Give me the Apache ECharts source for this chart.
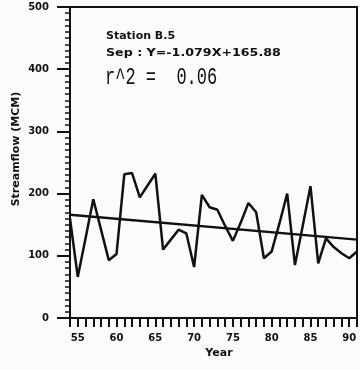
<!DOCTYPE html>
<html>
<head>
<meta charset="utf-8">
<script src="https://cdn.jsdelivr.net/npm/echarts@6/dist/echarts.min.js"></script>
<style>
html,body{margin:0;padding:0;background:#fcfcfa;}
#chart{width:360px;height:370px;}
</style>
</head>
<body>
<div id="chart"></div>
<script>
var years = [54,55,56,57,58,59,60,61,62,63,64,65,66,67,68,69,70,71,72,73,74,75,76,77,78,79,80,81,82,83,84,85,86,87,88,89,90,91];
var streamflow = [160,66,128,191,142,93,103,231,233,194,213,232,110,126,142,136,82,198,178,174,148,124,153,185,170,96,107,152,200,85,148,212,88,128,114,104,96,107];
var trendYears = [54,91];
var trendValues = [165.9,126.0];
var yTicks = [0,100,200,300,400,500];
var xTickLabels = [55,60,65,70,75,80,85,90];
var titleText = 'Station B.5';
var equationText = 'Sep : Y=-1.079X+165.88';
var r2Text = 'r^2 =  0.06';
var yName = 'Streamflow (MCM)';
var xName = 'Year';

var chart = echarts.init(document.getElementById('chart'), null, {renderer:'canvas'});
var lineData = years.map(function(y,i){return [y, streamflow[i]];});
var trendData = trendYears.map(function(y,i){return [y, trendValues[i]];});
var boldFont = 'DejaVu Sans';

chart.setOption({
  backgroundColor:'#fcfcfa',
  animation:false,
  grid:{left:70,right:3,top:7,bottom:52,show:true,borderColor:'#111',borderWidth:2,backgroundColor:'transparent'},
  xAxis:{
    type:'value',min:54,max:91,interval:1,
    axisLine:{lineStyle:{color:'#111',width:2}},
    axisTick:{show:true,inside:false,length:9,lineStyle:{color:'#111',width:2}},
    splitLine:{show:false},
    axisLabel:{
      margin:15,color:'#111',fontFamily:boldFont,fontWeight:'bold',fontSize:10,
      formatter:function(v){return xTickLabels.indexOf(v)>=0 ? String(v) : '';}
    }
  },
  yAxis:{
    type:'value',min:0,max:500,interval:100,
    axisLine:{show:true,lineStyle:{color:'#111',width:2}},
    axisTick:{show:true,inside:false,length:13,lineStyle:{color:'#111',width:2}},
    minorTick:{show:true,splitNumber:10,length:5,lineStyle:{color:'#111',width:1.5}},
    splitLine:{show:false},
    axisLabel:{
      margin:21,color:'#111',fontFamily:boldFont,fontWeight:'bold',fontSize:10,
      formatter:function(v){return yTicks.indexOf(v)>=0 ? String(v) : '';}
    }
  },
  series:[
    {type:'line',data:lineData,showSymbol:false,symbol:'none',lineStyle:{color:'#111',width:2.5},z:3},
    {type:'line',data:trendData,showSymbol:false,symbol:'none',lineStyle:{color:'#111',width:2.5},z:2}
  ],
  graphic:[
    {type:'text',x:106,y:36,style:{text:titleText,fontFamily:boldFont,fontWeight:'bold',fontSize:11,fill:'#111',textVerticalAlign:'middle'}},
    {type:'text',x:106,y:53,scaleX:1.15,style:{text:equationText,x:0,y:0,fontFamily:boldFont,fontWeight:'bold',fontSize:11,fill:'#111',textVerticalAlign:'middle'}},
    {type:'text',x:105,y:77,scaleY:1.45,style:{text:r2Text,x:0,y:0,fontFamily:'Liberation Mono',fontSize:17,fill:'#111',textVerticalAlign:'middle'}},
    {type:'text',x:16,y:149,rotation:Math.PI/2,style:{text:yName,x:0,y:0,fontFamily:boldFont,fontWeight:'bold',fontSize:11,fill:'#111',textAlign:'center',textVerticalAlign:'middle'}},
    {type:'text',x:219,y:353,style:{text:xName,fontFamily:boldFont,fontWeight:'bold',fontSize:11,fill:'#111',textAlign:'center',textVerticalAlign:'middle'}}
  ]
});
</script>
</body>
</html>
